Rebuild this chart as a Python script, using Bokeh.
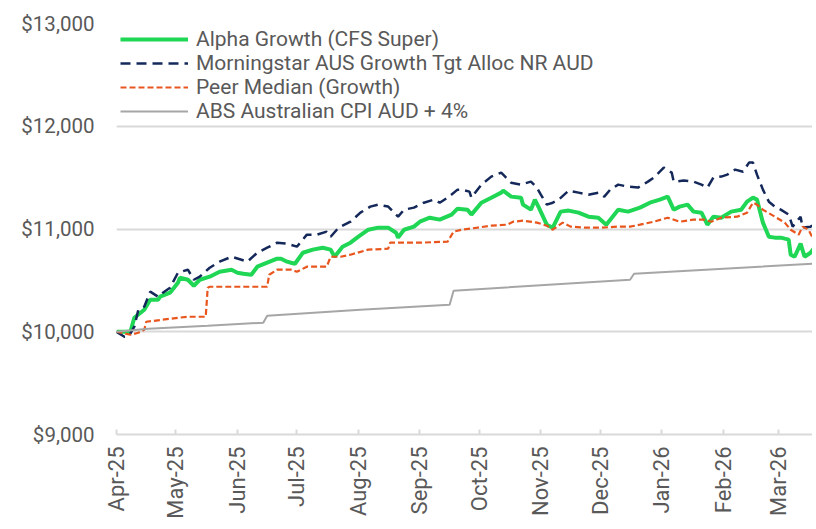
import math
import pandas as pd
from bokeh.plotting import figure
from bokeh.models import (Range1d, FixedTicker, DatetimeTickFormatter, NumeralTickFormatter,
                          Legend, LegendItem)
from bokeh.embed import file_html
from bokeh.resources import INLINE

START = pd.Timestamp("2025-04-01")

# Series values (days since 1 Apr 2025, value of $10,000 invested)
green_days = [0, 7, 9, 14, 17, 21, 22, 27, 31, 32, 36, 39, 42, 47, 52, 58, 61, 64, 68, 71, 76, 81, 83, 86,
              88, 90, 94, 99, 104, 108, 110, 114, 118, 122, 127, 132, 137, 141, 142, 145, 150, 153, 158,
              163, 169, 172, 177, 179, 184, 189, 194, 195, 199, 204, 205, 209, 211, 213, 217, 220, 224,
              228, 233, 238, 243, 247, 253, 258, 264, 269, 274, 278, 281, 284, 288, 291, 295, 298, 301,
              305, 310, 315, 318, 321, 323, 326, 329, 332, 335, 339, 340, 342, 345, 347, 350, 352]
green_vals = [10000, 10000, 10136, 10214, 10312, 10312, 10341, 10380, 10477, 10526, 10506, 10448, 10506,
              10536, 10584, 10604, 10575, 10565, 10555, 10633, 10672, 10711, 10711, 10682,
              10672, 10662, 10769, 10799, 10818, 10799, 10730, 10828, 10867, 10925, 10993, 11013, 11013,
              10964, 10916, 10993, 11023, 11071, 11110,
              11091, 11140, 11198, 11188, 11140, 11256, 11305, 11354, 11373, 11315, 11305, 11237, 11188,
              11286, 11208, 11042, 11013, 11169,
              11179, 11159, 11120, 11110, 11042, 11188, 11169, 11208, 11256, 11286, 11315, 11188, 11218,
              11237, 11169, 11159, 11042, 11120,
              11110, 11169, 11188, 11266, 11305, 11286, 11062, 10925, 10916, 10916, 10896, 10750, 10730,
              10857, 10730, 10769, 10818]

navy_days = [0, 4, 6, 9, 11, 14, 17, 21, 22, 27, 31, 36, 39, 42, 47, 52, 58, 63, 66, 71, 76, 81, 86, 91,
             96, 101, 106, 108, 112, 118, 123, 128, 132, 137, 142, 145, 150, 155, 160, 163, 167, 172, 174,
             178, 179, 184, 189, 194, 196, 199, 204, 209, 212, 214, 217, 220, 223, 228, 233, 238, 243, 246,
             249, 253, 258, 263, 268, 271, 276, 280, 281, 286, 291, 295, 298, 301, 305, 308, 312, 316, 319,
             321, 323, 326, 329, 332, 335, 339, 341, 345, 346, 350, 352]
navy_vals = [10000, 9951, 9951, 10049, 10214, 10244, 10390, 10341, 10360, 10429, 10575, 10604, 10506, 10536,
             10623, 10682, 10730, 10701, 10682, 10769, 10818, 10867, 10857, 10828,
             10945, 10945, 10974, 10925, 11013, 11071, 11159, 11218, 11237, 11218, 11120, 11188, 11208, 11256,
             11286, 11256, 11305, 11383, 11383,
             11364, 11305, 11432, 11510, 11549, 11510, 11451, 11432, 11461, 11403, 11334, 11237, 11256, 11286,
             11373, 11354, 11334, 11354, 11315,
             11383, 11432, 11412, 11403, 11461, 11500, 11597, 11549, 11461, 11471, 11461, 11432, 11403, 11500,
             11510, 11529, 11578, 11558, 11646,
             11646, 11529, 11383, 11266, 11218, 11188, 11140, 11023, 11120, 11013, 11023, 11042]

peer_days = [0, 7, 11, 14, 15, 31, 36, 45, 46, 47, 76, 77, 81, 88, 91, 96, 106, 108, 113, 118, 127, 137, 138,
             153, 167, 170, 174, 182, 189, 197, 200, 205, 212, 217, 220, 225, 229, 236, 244, 253, 259, 264,
             271, 278, 284, 291, 296, 300, 305, 313, 318, 321, 323, 326, 332, 337, 340, 344, 346, 349, 351]
peer_vals = [10000, 9971, 9990, 10019, 10097, 10136, 10146, 10146, 10429, 10438, 10438, 10555, 10604, 10604,
             10584, 10633, 10633, 10730, 10730, 10750, 10799, 10808, 10867,
             10867, 10877, 10974, 10993, 11013, 11032, 11042, 11071, 11081, 11062, 11032, 10993, 11062, 11023,
             11013, 11013, 11023, 11023, 11042,
             11071, 11110, 11071, 11091, 11091, 11071, 11110, 11120, 11159, 11256, 11237, 11188, 11120, 11062,
             10993, 10945, 11023, 10993, 10916]

cpi_days = [0, 16, 46, 74, 76, 123, 168, 170, 259, 261, 351]
cpi_vals = [10000, 10029, 10058, 10088, 10156, 10214, 10263, 10399, 10506, 10565, 10662]

series_labels = ["Alpha Growth (CFS Super)", "Morningstar AUS Growth Tgt Alloc NR AUD",
                 "Peer Median (Growth)", "ABS Australian CPI AUD + 4%"]

y_ticks = [9000, 10000, 11000, 12000, 13000]
month_ticks = ["2025-04-01", "2025-05-01", "2025-06-01", "2025-07-01", "2025-08-01", "2025-09-01",
               "2025-10-01", "2025-11-01", "2025-12-01", "2026-01-01", "2026-02-01", "2026-03-01"]


def to_dates(days):
    return [START + pd.Timedelta(days=d) for d in days]


FONT = "Roboto"
TXT = "#595959"
GRID = "#d9d9d9"

p = figure(width=812, height=521, output_backend="svg", toolbar_location=None,
           x_axis_type="datetime",
           x_range=Range1d(START, START + pd.Timedelta(days=351)),
           y_range=Range1d(9000, 13000),
           min_border_left=116, min_border_right=0, min_border_top=23, min_border_bottom=86)
p.outline_line_color = None
p.background_fill_color = "white"
p.border_fill_color = "white"

r_green = p.line(to_dates(green_days), green_vals, line_color="#1fd655", line_width=4)
r_navy = p.line(to_dates(navy_days), navy_vals, line_color="#14285a", line_width=2.5, line_dash="10 6")
r_peer = p.line(to_dates(peer_days), peer_vals, line_color="#e8561e", line_width=2.2, line_dash="6 3")
r_cpi = p.line(to_dates(cpi_days), cpi_vals, line_color="#a6a6a6", line_width=2)

# axes
p.xgrid.visible = False
p.ygrid.ticker = FixedTicker(ticks=y_ticks)
p.ygrid.grid_line_color = GRID
p.ygrid.grid_line_width = 2

yax = p.yaxis[0]
yax.ticker = FixedTicker(ticks=y_ticks)
yax.formatter = NumeralTickFormatter(format="$0,0")
yax.axis_line_color = None
yax.major_tick_line_color = None
yax.minor_tick_line_color = None
yax.major_tick_out = 0
yax.major_label_standoff = 22
yax.major_label_text_font = FONT
yax.major_label_text_font_size = "20.5px"
yax.major_label_text_color = TXT

xax = p.xaxis[0]
xax.ticker = FixedTicker(ticks=[pd.Timestamp(t).value / 1e6 for t in month_ticks])
fmt = "%b-%y"
xax.formatter = DatetimeTickFormatter(milliseconds=fmt, seconds=fmt, minsec=fmt, minutes=fmt,
                                      hourmin=fmt, hours=fmt, days=fmt, months=fmt, years=fmt)
xax.axis_line_color = GRID
xax.axis_line_width = 2
xax.major_tick_line_color = GRID
xax.major_tick_line_width = 2
xax.major_tick_in = 5
xax.major_tick_out = 0
xax.minor_tick_line_color = None
xax.major_label_orientation = math.pi / 2
xax.major_label_standoff = 12
xax.major_label_text_font = FONT
xax.major_label_text_font_size = "22px"
xax.major_label_text_color = TXT

legend = Legend(items=[LegendItem(label=series_labels[0], renderers=[r_green]),
                       LegendItem(label=series_labels[1], renderers=[r_navy]),
                       LegendItem(label=series_labels[2], renderers=[r_peer]),
                       LegendItem(label=series_labels[3], renderers=[r_cpi])],
                location="top_left", margin=0, padding=4, spacing=0,
                glyph_width=68, glyph_height=24, label_height=24, label_standoff=8,
                label_text_font=FONT, label_text_font_size="21px", label_text_color=TXT,
                border_line_alpha=0, background_fill_alpha=0)
p.add_layout(legend)

open("out.html", "w").write(file_html(p, INLINE))
